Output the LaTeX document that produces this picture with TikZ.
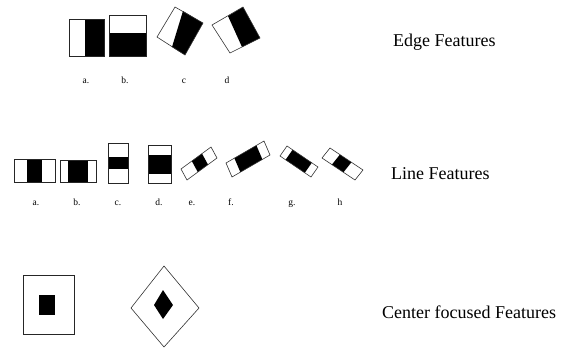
\documentclass[tikz,border=0pt]{standalone}
\usepackage{fontspec}
\setmainfont{Liberation Serif}
\usetikzlibrary{calc}
\tikzset{
  outl/.style={draw=black!85, line width=0.8pt},
  routl/.style={draw=black!80, line width=0.6pt, line join=miter},
  blk/.style={fill=black},
  title/.style={anchor=base west, inner sep=0pt, font=\fontsize{18}{18}\selectfont},
  lbl/.style={anchor=base, inner sep=0pt, font=\fontsize{9.5}{9.5}\selectfont}
}
\newcommand\rbar[5]{%
  \path #1 coordinate (p1) #2 coordinate (p2) #3 coordinate (p4);
  \coordinate (p3) at ($(p2)+(p4)-(p1)$);
  \fill[blk] ($(p1)!#4!(p2)$) -- ($(p1)!#5!(p2)$) -- ($(p4)!#5!(p3)$) -- ($(p4)!#4!(p3)$) -- cycle;
  \draw[routl] (p1) -- (p2) -- (p3) -- (p4) -- cycle;
}
\begin{document}
\begin{tikzpicture}[x=1pt,y=-1pt]
\useasboundingbox (0,0) rectangle (565,349);
% ---- Edge features ----
\fill[blk] (85,19) rectangle (104,56);
\draw[outl] (69,19) rectangle (104,56);
\fill[blk] (109,33) rectangle (146,56);
\draw[outl] (109,15) rectangle (146,56);
\fill[blk] (183,11) -- (203,23) -- (185,55) -- (172,47) -- cycle;
\draw[routl] (175,7) -- (203,23) -- (185,55) -- (157,37) -- cycle;
\fill[blk] (228,16) -- (243,7) -- (260,38) -- (242,47) -- cycle;
\draw[routl] (243,7) -- (260,38) -- (230,53) -- (212,25) -- cycle;
\node[lbl] (ea) at (86,83) {a.};
\node[lbl] (eb) at (125,83) {b.};
\node[lbl] (ec) at (184,83) {c};
\node[lbl] (ed) at (227,83) {d};
\node[title] (edge) at (393,46) {Edge Features};
% ---- Line features ----
\fill[blk] (27,159) rectangle (42,182);
\draw[outl] (14,159) rectangle (55,182);
\fill[blk] (68,160) rectangle (88,182);
\draw[outl] (60,160) rectangle (96,182);
\fill[blk] (108,157) rectangle (128,169);
\draw[outl] (108,143) rectangle (128,183);
\fill[blk] (148,155) rectangle (171,174);
\draw[outl] (148,145) rectangle (171,183);
\rbar{(181,169)}{(211,147)}{(187,180)}{0.36}{0.7}
\rbar{(226,163)}{(264,141)}{(232,177)}{0.22}{0.8}
\rbar{(287,146)}{(318,167)}{(280,156)}{0.18}{0.8}
\rbar{(330,148)}{(363,170)}{(322,158)}{0.3}{0.65}
\node[lbl] (la) at (36,205) {a.};
\node[lbl] (lb) at (77,205) {b.};
\node[lbl] (lc) at (118,205) {c.};
\node[lbl] (ld) at (159,205) {d.};
\node[lbl] (le) at (192,205) {e.};
\node[lbl] (lf) at (231,205) {f.};
\node[lbl] (lg) at (292,205) {g.};
\node[lbl] (lh) at (340,205) {h};
\node[title] (line) at (391,179) {Line Features};
% ---- Center focused features ----
\draw[outl] (23,275) rectangle (74,334);
\fill[blk] (39,295) rectangle (55,315);
\draw[routl] (131,308) -- (164,266) -- (199,308) -- (164,347) -- cycle;
\fill[blk] (154,305) -- (163,290) -- (173,305) -- (163,319) -- cycle;
\node[title] (center) at (382,318) {Center focused Features};
\end{tikzpicture}
\end{document}
